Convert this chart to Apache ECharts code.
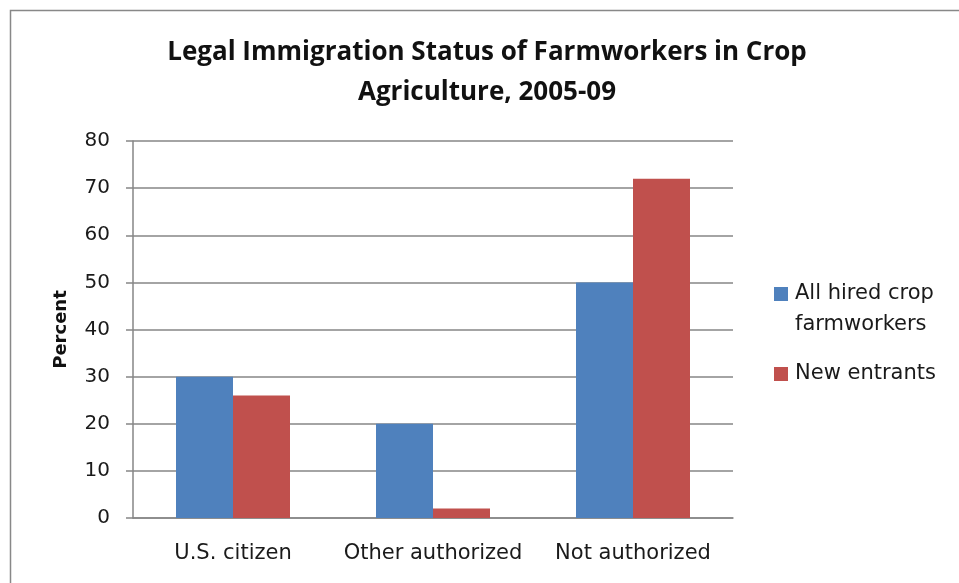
<!DOCTYPE html>
<html><head><meta charset="utf-8">
<script src="https://cdn.jsdelivr.net/npm/echarts@6/dist/echarts.min.js"></script>
<style>html,body{margin:0;padding:0;background:#fff}#c{width:959px;height:583px}</style>
</head><body><div id="c"></div>
<script>
const categories = ["U.S. citizen", "Other authorized", "Not authorized"];
const allHired = [30, 20, 50];
const newEntrants = [26, 2, 72];
const seriesNames = ["All hired crop\nfarmworkers", "New entrants"];
const yTicks = {min: 0, max: 80, interval: 10};

const chart = echarts.init(document.getElementById('c'));
const font = 'DejaVu Sans, sans-serif';
chart.setOption({
  animation: false,
  graphic: [{type: 'rect', shape: {x: 10.5, y: 10.5, width: 1000, height: 1000}, style: {fill: 'none', stroke: '#888', lineWidth: 1.5}, silent: true}],
  title: {
    text: 'Legal Immigration Status of Farmworkers in Crop\nAgriculture, 2005-09',
    left: 482, top: 28, textAlign: 'center',
    textStyle: {fontFamily: 'Open Sans, sans-serif', fontSize: 26, fontWeight: 'bold', color: '#111', lineHeight: 40}
  },
  legend: {
    orient: 'vertical', left: 774, top: 278, padding: 0, itemWidth: 14, itemHeight: 44, itemGap: 12,
    data: [
      {name: seriesNames[0], icon: 'path://M0,0H14V14H0Z M0,44L0,44'},
      {name: seriesNames[1], icon: 'path://M0,15H14V29H0Z M0,0L0,0 M0,44L0,44'}
    ],
    textStyle: {fontFamily: font, fontSize: 21, color: '#1a1a1a', lineHeight: 31, padding: [0, 0, 0, 2]}
  },
  grid: {left: 133, right: 226, top: 141, bottom: 65},
  xAxis: {
    type: 'category', data: categories,
    axisLine: {lineStyle: {color: '#868686', width: 1.5}},
    axisTick: {show: false},
    axisLabel: {fontFamily: font, fontSize: 21, color: '#1a1a1a', margin: 25, interval: 0}
  },
  yAxis: {
    type: 'value', min: yTicks.min, max: yTicks.max, interval: yTicks.interval,
    name: 'Percent', nameLocation: 'middle', nameGap: 63,
    nameTextStyle: {fontFamily: font, fontSize: 18, fontWeight: 'bold', color: '#111'},
    axisLine: {show: true, lineStyle: {color: '#868686', width: 1.5}},
    axisTick: {show: true, length: 7, inside: false, lineStyle: {color: '#868686', width: 1.5}},
    splitLine: {lineStyle: {color: '#868686', width: 1.5}},
    axisLabel: {fontFamily: font, fontSize: 20, color: '#1a1a1a', margin: 23}
  },
  series: [
    {name: seriesNames[0], type: 'bar', data: allHired, barWidth: 57, barGap: '0%', itemStyle: {color: '#4F81BD'}},
    {name: seriesNames[1], type: 'bar', data: newEntrants, barWidth: 57, barGap: '0%', itemStyle: {color: '#C0504D'}}
  ]
});
</script></body></html>
